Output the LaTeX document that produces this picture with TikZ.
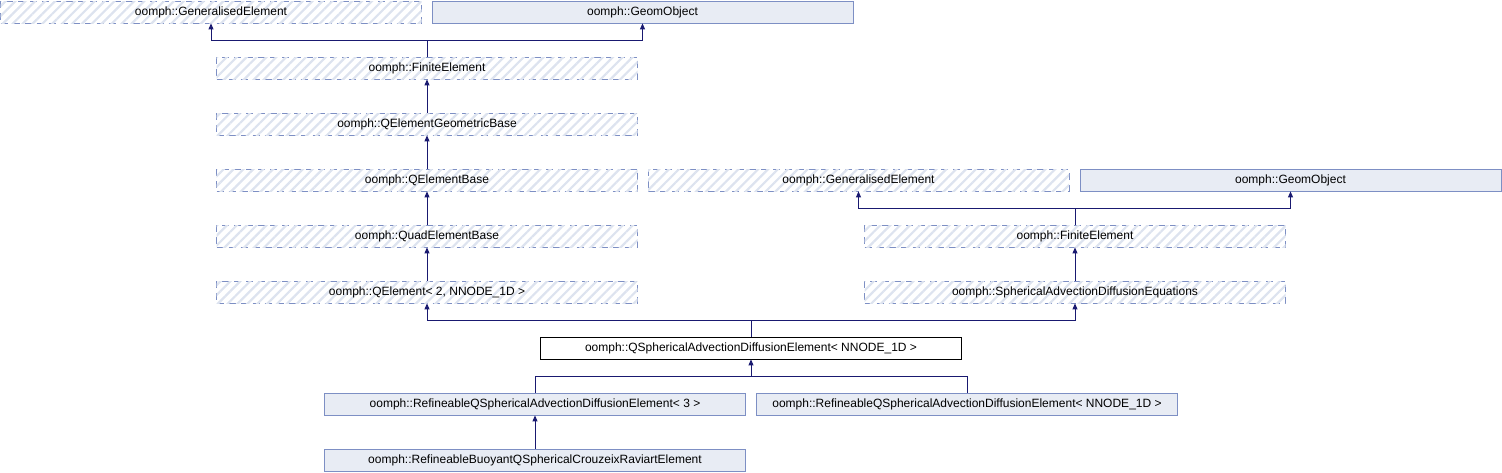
\documentclass[tikz,border=0pt]{standalone}
\usepackage{fontspec}
\setmainfont{Liberation Sans}
\usetikzlibrary{arrows.meta,patterns.meta}
\definecolor{edgec}{HTML}{191970}
\definecolor{hatchborder}{HTML}{7D8FC4}
\definecolor{hatchfill}{HTML}{DDE3EF}
\definecolor{solidfill}{HTML}{E8ECF4}
\definecolor{solidborder}{HTML}{7D8FC4}
\tikzset{
  box/.style={minimum width=421pt, minimum height=22pt, inner sep=0pt, font=\fontsize{12}{14}\selectfont, line width=0.8pt},
  hatched/.style={box, draw=hatchborder, dash pattern=on 7pt off 5pt,
    postaction={pattern={Lines[angle=45,distance=7pt,line width=2.2pt]}, pattern color=hatchfill}},
  solid/.style={box, draw=solidborder, fill=solidfill},
  plain/.style={box, draw=black},
  arr/.style={draw=edgec, line width=0.9pt, -{Triangle[length=6pt,width=5pt]}},
  ln/.style={draw=edgec, line width=0.9pt}
}
\begin{document}
\begin{tikzpicture}[x=1pt,y=-1pt]
\useasboundingbox (0,0) rectangle (1502,472);
\node[hatched] (GE1) at (211,12) {oomph::GeneralisedElement};
\node[solid] (GO1) at (642.5,12) {oomph::GeomObject};
\node[hatched] (FE1) at (427,68) {oomph::FiniteElement};
\node[hatched] (QEGB) at (427,124) {oomph::QElementGeometricBase};
\node[hatched] (QEB) at (427,180) {oomph::QElementBase};
\node[hatched] (GE2) at (858.5,180) {oomph::GeneralisedElement};
\node[solid] (GO2) at (1290.5,180) {oomph::GeomObject};
\node[hatched] (QuadEB) at (427,236) {oomph::QuadElementBase};
\node[hatched] (FE2) at (1075,236) {oomph::FiniteElement};
\node[hatched] (QE) at (427,292) {oomph::QElement< 2, NNODE\_1D >};
\node[hatched] (SADE) at (1075,292) {oomph::SphericalAdvectionDiffusionEquations};
\node[plain] (QSADE) at (751,348) {oomph::QSphericalAdvectionDiffusionElement< NNODE\_1D >};
\node[solid] (RQ3) at (535,404) {oomph::RefineableQSphericalAdvectionDiffusionElement< 3 >};
\node[solid] (RQN) at (967,404) {oomph::RefineableQSphericalAdvectionDiffusionElement< NNODE\_1D >};
\node[solid] (RB) at (535,460) {oomph::RefineableBuoyantQSphericalCrouzeixRaviartElement};
% junctions
\coordinate (j1) at (427,40);
\coordinate (j2) at (1075,208);
\coordinate (j3) at (751,320);
\coordinate (j4) at (751,376);
\draw[ln] (FE1.north) -- (j1);
\draw[arr] (j1) -| (GE1.south);
\draw[arr] (j1) -| (GO1.south);
\draw[arr] (QEGB) -- (FE1);
\draw[arr] (QEB) -- (QEGB);
\draw[arr] (QuadEB) -- (QEB);
\draw[arr] (QE) -- (QuadEB);
\draw[ln] (FE2.north) -- (j2);
\draw[arr] (j2) -| (GE2.south);
\draw[arr] (j2) -| (GO2.south);
\draw[arr] (SADE) -- (FE2);
\draw[ln] (QSADE.north) -- (j3);
\draw[arr] (j3) -| (QE.south);
\draw[arr] (j3) -| (SADE.south);
\draw[ln] (RQ3.north) |- (j4);
\draw[ln] (RQN.north) |- (j4);
\draw[arr] (j4) -- (QSADE.south);
\draw[arr] (RB) -- (RQ3);
\end{tikzpicture}
\end{document}
